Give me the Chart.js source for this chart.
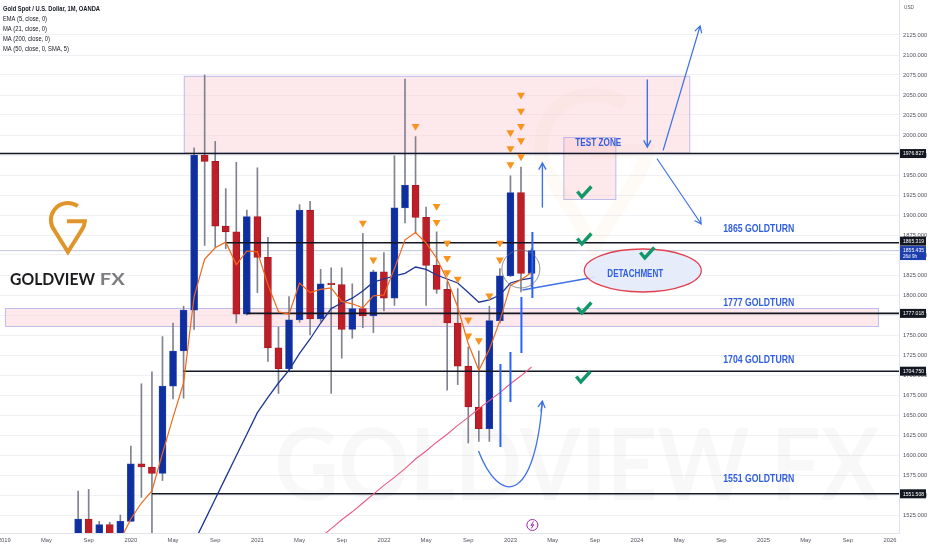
<!DOCTYPE html>
<html><head><meta charset="utf-8">
<script src="https://cdn.jsdelivr.net/npm/chart.js@4.4.1/dist/chart.umd.min.js"></script>
<style>html,body{margin:0;padding:0;background:#fff;overflow:hidden}</style>
</head><body>
<canvas id="c" width="932" height="550"></canvas>
<script>
// ---------------- DATA ----------------
const months = ['2019-08','2019-09','2019-10','2019-11','2019-12','2020-01','2020-02','2020-03','2020-04','2020-05','2020-06','2020-07','2020-08','2020-09','2020-10','2020-11','2020-12','2021-01','2021-02','2021-03','2021-04','2021-05','2021-06','2021-07','2021-08','2021-09','2021-10','2021-11','2021-12','2022-01','2022-02','2022-03','2022-04','2022-05','2022-06','2022-07','2022-08','2022-09','2022-10','2022-11','2022-12','2023-01','2023-02','2023-03'];
const openP  = [1413,1520,1472,1513,1464,1517,1589,1585,1577,1686,1730,1781,1975,1967,1886,1879,1776,1898,1847,1734,1708,1769,1906,1770,1814,1813,1757,1783,1774,1829,1796,1909,1937,1897,1837,1807,1765,1711,1660,1633,1768,1824,1928,1827];
const highP  = [1555,1557,1517,1516,1525,1611,1689,1704,1748,1765,1786,1984,2075,1992,1933,1966,1906,1959,1872,1760,1798,1913,1917,1832,1834,1834,1814,1877,1831,1853,1974,2070,1998,1910,1879,1817,1808,1735,1730,1786,1833,1949,1960,1858];
const lowP   = [1400,1459,1459,1445,1459,1517,1547,1451,1568,1670,1671,1757,1862,1860,1858,1765,1775,1803,1717,1677,1704,1766,1750,1767,1677,1721,1746,1759,1753,1780,1787,1890,1877,1787,1802,1681,1688,1615,1617,1617,1765,1823,1804,1810];
const closeP = [1520,1472,1513,1464,1517,1589,1585,1577,1686,1730,1781,1975,1967,1886,1879,1776,1898,1847,1734,1708,1769,1906,1770,1814,1813,1757,1783,1774,1829,1796,1909,1937,1897,1837,1807,1765,1711,1660,1633,1768,1824,1928,1827,1855.435];
const ema5   = [null,null,null,1478,1494,1520,1540,1555,1602,1647,1690,1798,1845,1859,1866,1838,1855,1854,1813,1779,1776,1815,1803,1807,1809,1792,1789,1784,1799,1800,1833,1869,1878,1865,1846,1819,1785,1739,1706,1732,1768,1812,1819,1828];
const ma21   = [null,null,null,null,null,null,null,null,null,null,1464,1491,1518,1545,1572,1599,1626,1653,1672,1690,1706,1727,1745,1765,1783,1790,1796,1805,1816,1820,1824,1827,1835,1832,1825,1820,1815,1803,1791,1794,1800,1815,1819,1821];
const ma50   = [null,null,null,null,null,null,null,null,null,null,null,null,null,null,null,null,null,null,null,null,null,null,null,1497,1508,1519,1529,1540,1551,1562,1572,1583,1595,1605,1616,1626,1637,1647,1658,1668,1678,1689,1699,1710];
const signalMonths = ['2021-11','2021-12','2022-04','2022-06','2022-06','2022-07','2022-07','2022-07','2022-08','2022-09','2022-09','2022-10','2022-11','2022-12','2022-12','2023-01','2023-01','2023-01','2023-02','2023-02','2023-02','2023-02','2023-02'];
const signalPrices = [1890,1844,2011,1911,1891,1865,1846,1828,1820,1769,1749,1743,1799,1865,1844,2003,1983,1963,2050,2030,2011,1993,1973];
const levels = [1976.827,1865.319,1777.018,1704.750,1551.508];
const levelStart = ['2018-12','2020-10','2020-12','2020-06','2020-03'];
const levelEnd = '2026-06';
const lastPrice = 1855.435;
const lastCountdown = '26d 9h';
const xTickLabels = ['2019','May','Sep','2020','May','Sep','2021','May','Sep','2022','May','Sep','2023','May','Sep','2024','May','Sep','2025','May','Sep','2026'];
const yTicks = [1525,1550,1575,1600,1625,1650,1675,1700,1725,1750,1775,1800,1825,1850,1875,1900,1925,1950,1975,2000,2025,2050,2075,2100,2125];
const legendLines = ['Gold Spot / U.S. Dollar, 1M, OANDA','EMA (5, close, 0)','MA (21, close, 0)','MA (200, close, 0)','MA (50, close, 0, SMA, 5)'];
const levelNotes = ['1865 GOLDTURN','1777 GOLDTURN','1704 GOLDTURN','1551 GOLDTURN'];

// ---------------- HELPERS ----------------
const monthIdx = s => { const [y,m] = s.split('-').map(Number); return (y-2019)*12 + (m-1); };
const X_MIN = -0.41, X_MAX = 84.85, Y_MIN = 1502.5, Y_MAX = 2168.75;
const pts = arr => months.map((m,i)=>({x:monthIdx(m), y:arr[i]})).filter(p=>p.y!==null);
const isUp = months.map((m,i)=>closeP[i]>=openP[i]);
const BLUE='#0f2f9e', RED='#bd1f29';
const NARROW = '"Liberation Sans", "DejaVu Sans", sans-serif';

function fitText(ctx, text, x, y, w, font, color, align, baseline){
  ctx.save(); ctx.font = font; const m = ctx.measureText(text).width || 1;
  ctx.translate(x, y); ctx.scale(w/m, 1); ctx.fillStyle = color;
  ctx.textAlign = align||'left'; ctx.textBaseline = baseline||'middle';
  ctx.fillText(text, 0, 0); ctx.restore();
}
function arrow(ctx,x1,y1,x2,y2,h,color,lw){
  ctx.save(); ctx.strokeStyle=color; ctx.lineWidth=lw; ctx.lineCap='round'; ctx.beginPath();
  ctx.moveTo(x1,y1); ctx.lineTo(x2,y2);
  const a=Math.atan2(y2-y1,x2-x1);
  ctx.moveTo(x2-h*Math.cos(a-0.5), y2-h*Math.sin(a-0.5)); ctx.lineTo(x2,y2);
  ctx.lineTo(x2-h*Math.cos(a+0.5), y2-h*Math.sin(a+0.5)); ctx.stroke(); ctx.restore();
}
function check(ctx,cx,cy){
  ctx.save(); ctx.strokeStyle='#12976a'; ctx.lineWidth=3.4; ctx.lineJoin='miter'; ctx.lineCap='butt';
  ctx.beginPath(); ctx.moveTo(cx-7,cy-0.5); ctx.lineTo(cx-2.5,cy+5); ctx.lineTo(cx+7,cy-5.5); ctx.stroke(); ctx.restore();
}
function pin(ctx,cx,cy,s,color,lw){
  ctx.save(); ctx.strokeStyle=color; ctx.lineWidth=lw; ctx.lineJoin='miter'; ctx.lineCap='butt';
  const r=17*s; ctx.beginPath();
  ctx.arc(cx,cy,r,-0.95,2.45,true);
  ctx.lineTo(cx,cy+32*s);
  ctx.lineTo(cx+r*Math.cos(0.55), cy+r*Math.sin(0.55));
  ctx.arc(cx,cy,r,0.55,0.08,true);
  ctx.lineTo(cx-1*s, cy+r*Math.sin(0.08));
  ctx.stroke(); ctx.restore();
}
const noPad = s => { s.paddingTop=0; s.paddingBottom=0; s.paddingLeft=0; s.paddingRight=0; };

const overlay = {
  id:'overlay',
  beforeDatasetsDraw(chart){
    const {ctx, chartArea:a} = chart; const X=v=>chart.scales.x.getPixelForValue(v), Y=v=>chart.scales.y.getPixelForValue(v);
    ctx.save(); ctx.beginPath(); ctx.rect(a.left,a.top,a.width,a.height); ctx.clip();
    // watermark
    fitText(ctx,'GOLDVIEW FX',X(25.64),Y(1543.75),605,'bold 100px "Lato", sans-serif','rgba(0,0,0,0.028)','left','alphabetic');
    pin(ctx,X(55.9),Y(1985),3.1,'rgba(240,150,60,0.05)',14);
    // zones
    const zone=(x1,p1,x2,p2)=>{ const l=X(x1),t=Y(p1),r=X(x2),b=Y(p2);
      ctx.fillStyle='rgba(250,200,208,0.42)'; ctx.fillRect(l,t,r-l,b-t);
      ctx.strokeStyle='rgba(140,155,235,0.55)'; ctx.lineWidth=1; ctx.strokeRect(l+0.5,t+0.5,r-l-1,b-t-1); };
    zone(17.02,2074,65.05,1976.827);
    zone(0.06,1783.75,82.95,1760);
    zone(53.02,1997.5,58.04,1918.75);
    ctx.restore();
  },
  afterDatasetsDraw(chart){
    const {ctx, chartArea:a} = chart; const X=v=>chart.scales.x.getPixelForValue(v), Y=v=>chart.scales.y.getPixelForValue(v);
    ctx.save(); ctx.beginPath(); ctx.rect(a.left,a.top,a.width,a.height); ctx.clip();
    const AB='#3f72e6';
    // vertical blue lines
    ctx.strokeStyle='#2962ff'; ctx.lineWidth=2;
    [[47.05,1713.75,1610],[48.0,1728.75,1666.25],[49.04,1797.5,1727.5],[50.08,1878.75,1796.25]].forEach(([x,p1,p2])=>{
      ctx.beginPath(); ctx.moveTo(X(x),Y(p1)); ctx.lineTo(X(x),Y(p2)); ctx.stroke(); });
    // curve arrow
    ctx.strokeStyle=AB; ctx.lineWidth=1.3; ctx.beginPath();
    ctx.moveTo(X(44.97),Y(1605)); ctx.bezierCurveTo(X(46.96),Y(1537.5),X(50.27),Y(1537.5),X(51.03),Y(1667.5)); ctx.stroke();
    arrow(ctx,X(50.9),Y(1655),X(51.03),Y(1667.5),7,AB,1.3);
    // arrows
    arrow(ctx,X(51.03),Y(1910),X(51.03),Y(1965),7,AB,1.4);
    arrow(ctx,X(60.98),Y(2068.75),X(60.98),Y(1985),7,AB,1.4);
    arrow(ctx,X(61.92),Y(1970),X(66.09),Y(1888.75),7,AB,1.2);
    arrow(ctx,X(62.49),Y(1981.25),X(65.99),Y(2136.25),7,AB,1.2);
    // gray circle around last candles
    ctx.strokeStyle='rgba(110,110,120,0.75)'; ctx.lineWidth=1; ctx.beginPath(); ctx.arc(X(48.99),Y(1832.5),19,0,Math.PI*2); ctx.stroke();
    // pointer line
    ctx.strokeStyle=AB; ctx.lineWidth=1.3; ctx.beginPath(); ctx.moveTo(X(56.05),Y(1822.5)); ctx.lineTo(X(49.14),Y(1806.25)); ctx.stroke();
    // ellipse
    ctx.beginPath(); ctx.ellipse(X(60.55),Y(1830.6),58.5,21.5,0,0,Math.PI*2);
    ctx.fillStyle='rgba(228,234,250,0.9)'; ctx.fill(); ctx.strokeStyle='#e0404f'; ctx.lineWidth=1.3; ctx.stroke();
    // texts
    const TB='#2f5fe0';
    fitText(ctx,'DETACHMENT',X(59.84),Y(1826.25),56,'bold 10px '+NARROW,TB,'center');
    fitText(ctx,'TEST ZONE',X(54.15),Y(1990),46,'bold 10px '+NARROW,TB,'left');
    const notePrices=[1882.5,1790,1718.75,1570];
    levelNotes.forEach((t,i)=>fitText(ctx,t,X(68.18),Y(notePrices[i]),71,'bold 10px '+NARROW,TB,'left'));
    // checks
    [[55.01,1928.75],[55.01,1870],[60.98,1852.5],[55.01,1783.75],[54.91,1697.5]].forEach(([x,p])=>check(ctx,X(x),Y(p)));
    // lightning icon
    const lx=X(50.08), ly=Y(1512.5);
    ctx.strokeStyle='#9c27b0'; ctx.lineWidth=1; ctx.beginPath(); ctx.arc(lx,ly,5.5,0,Math.PI*2); ctx.stroke();
    ctx.beginPath(); ctx.moveTo(lx+1.2,ly-3.5); ctx.lineTo(lx-1.5,ly+0.5); ctx.lineTo(lx+1.5,ly-0.5); ctx.lineTo(lx-1.2,ly+3.5); ctx.stroke();
    // logo
    pin(ctx,X(6.03),Y(1893.75),1,'#e0952c',4);
    fitText(ctx,'GOLDVIEW',X(0.54),Y(1818.75),85,'bold 17px "Lato", sans-serif','#1b1b1d','left');
    fitText(ctx,'FX',X(9.06),Y(1818.75),25,'bold 17px "Lato", sans-serif','#7d7d80','left');
    ctx.restore();
    // legend
    const lw=[97,44,44,47,66];
    legendLines.forEach((t,i)=>fitText(ctx,t,3,9.5+i*10,lw[i],(i===0?'bold ':'')+'7px '+NARROW,'#131722','left'));
  },
  afterDraw(chart){
    const {ctx, chartArea:a} = chart; const Y=v=>chart.scales.y.getPixelForValue(v);
    const L=a.right+1, W=26;
    fitText(ctx,'USD',a.right+5,7,10,'6px '+NARROW,'#50535e','left');
    const tag=(txt,yc,bg)=>{ ctx.fillStyle=bg; ctx.fillRect(L,yc-4.5,W,9); fitText(ctx,txt,L+3,yc+0.3,21,'6px '+NARROW,'#ffffff','left'); };
    levels.forEach((lv,i)=>{ let yc=Y(lv); if(i===1) yc-=1.6; tag(lv.toFixed(3),yc,'#131722'); });
    const yb=Y(lastPrice);
    ctx.fillStyle='#1d3fae'; ctx.fillRect(L,yb-4.6,W,14);
    fitText(ctx,lastPrice.toFixed(3),L+3,yb-0.3,21,'6px '+NARROW,'#ffffff','left');
    fitText(ctx,lastCountdown,L+3,yb+5.5,14,'6px '+NARROW,'#ffffff','left');
  }
};

// ---------------- CHART ----------------
const lineDs = (label,arr,color,order,w)=>({type:'line',label,data:pts(arr),borderColor:color,borderWidth:w,pointRadius:0,tension:0,order,fill:false});
const datasets = [];
levels.forEach((lv,i)=>datasets.push({type:'line',label:'L'+i,data:[{x:monthIdx(levelStart[i]),y:lv},{x:monthIdx(levelEnd),y:lv}],borderColor:'#131722',borderWidth:1.6,pointRadius:0,order:6}));
datasets.push({type:'line',label:'last',data:[{x:monthIdx('2018-12'),y:lastPrice},{x:monthIdx(levelEnd),y:lastPrice}],borderColor:'rgba(140,150,185,0.55)',borderWidth:1,pointRadius:0,order:12});
datasets.push({type:'bar',label:'wick',data:months.map((m,i)=>({x:monthIdx(m),y:[lowP[i],highP[i]]})),backgroundColor:'#80838e',barThickness:1,grouped:false,order:9});
datasets.push({type:'bar',label:'body',data:months.map((m,i)=>({x:monthIdx(m),y:[openP[i],closeP[i]]})),backgroundColor:isUp.map(u=>u?BLUE:RED),borderColor:isUp.map(u=>u?'#2444b8':'#a8161f'),borderWidth:0.8,borderSkipped:false,barThickness:7,minBarLength:1.5,grouped:false,order:8});
datasets.push(lineDs('MA50',ma50,'#ea5a82',5,1.1));
datasets.push(lineDs('MA21',ma21,'#1c3596',4,1.3));
datasets.push(lineDs('EMA5',ema5,'#f0691a',3,1.2));
datasets.push({type:'line',label:'signals',data:signalMonths.map((m,i)=>({x:monthIdx(m),y:signalPrices[i]})),showLine:false,pointStyle:'triangle',rotation:180,pointRadius:4.6,backgroundColor:'#f7931e',borderColor:'#f7931e',borderWidth:0,order:1});

new Chart(document.getElementById('c'),{
  type:'bar',
  data:{datasets},
  options:{
    responsive:false, animation:false, events:[],
    layout:{padding:0, autoPadding:false},
    plugins:{legend:{display:false},tooltip:{enabled:false}},
    scales:{
      x:{type:'linear',min:X_MIN,max:X_MAX,offset:false,position:'bottom',
        afterFit:s=>{s.height=17; noPad(s);},
        afterBuildTicks:s=>{s.ticks=xTickLabels.map((l,i)=>({value:i*4}));},
        ticks:{autoSkip:false,maxRotation:0,padding:4,color:'#50535e',font:{size:5.8,family:'"Liberation Sans", sans-serif'},callback:(v,i)=>xTickLabels[i]},
        grid:{display:false,drawTicks:false},border:{display:true,color:'#e0e3eb'}},
      y:{type:'linear',position:'right',min:Y_MIN,max:Y_MAX,
        afterFit:s=>{s.width=33; noPad(s);},
        afterBuildTicks:s=>{s.ticks=yTicks.map(v=>({value:v}));},
        ticks:{padding:4,color:'#50535e',font:{size:5.8,family:'"Liberation Sans", sans-serif'},callback:v=>Number(v).toFixed(3)},
        grid:{color:'#eff1f5',drawTicks:false},border:{display:true,color:'#e0e3eb'}}
    }
  },
  plugins:[overlay]
});
</script>
</body></html>
